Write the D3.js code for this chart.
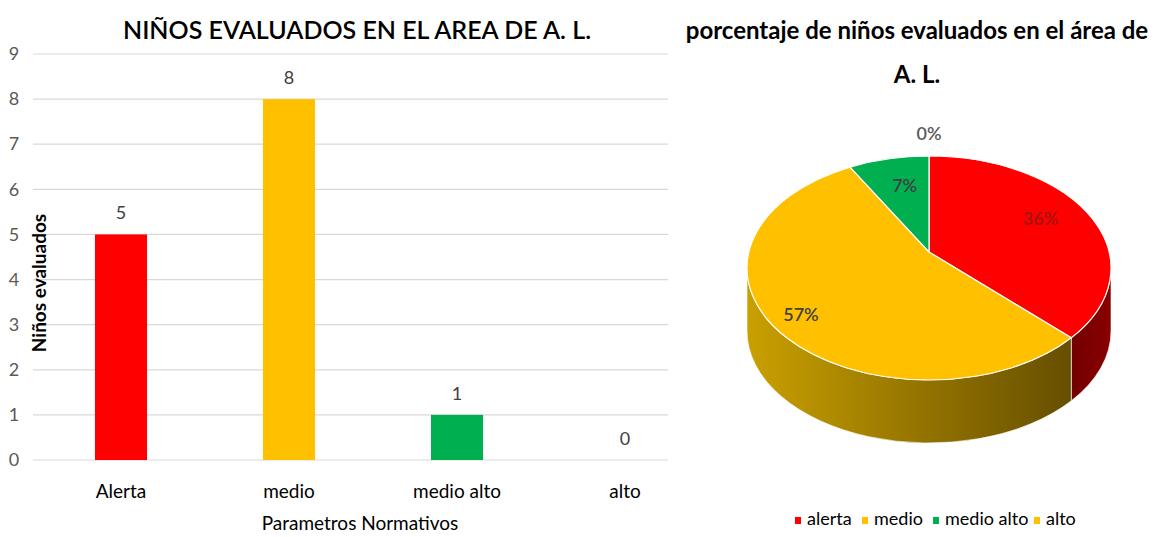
<!DOCTYPE html>
<html>
<head>
<meta charset="utf-8">
<script src="https://cdn.jsdelivr.net/npm/d3@7"></script>
<style>
  body { margin: 0; background: #fff; }
  svg text { font-family: Lato, "Open Sans", sans-serif; }
</style>
</head>
<body>
<svg id="chart" width="1153" height="537"></svg>
<script>
// data
const categories = ["Alerta", "medio", "medio alto", "alto"];
const counts = [5, 8, 1, 0];
const yTicks = [0, 1, 2, 3, 4, 5, 6, 7, 8, 9];
const pieNames = ["alerta", "medio", "medio alto", "alto"];
const pieLabels = ["36%", "57%", "7%", "0%"];
const barColors = ["#FF0000", "#FFC000", "#00B050", "#FFC000"];

const svg = d3.select("#chart");

// ---------- bar chart ----------
const x = d3.scaleBand().domain(categories).range([37, 709]).paddingInner(0.69).paddingOuter(0.345);
const y = d3.scaleLinear().domain([0, 9]).range([460, 54]);

// gridlines
svg.append("g").selectAll("line")
  .data(yTicks)
  .enter().append("line")
  .attr("x1", 33).attr("x2", 668)
  .attr("y1", d => y(d)).attr("y2", d => y(d))
  .attr("stroke", "#d9d9d9").attr("stroke-width", 1.2);

const yAxis = svg.append("g")
  .attr("transform", "translate(22,0)")
  .call(d3.axisLeft(y).tickValues(yTicks).tickSize(0).tickPadding(0));
yAxis.select(".domain").remove();
yAxis.selectAll("text")
  .attr("text-anchor", "middle").attr("x", -8)
  .style("font-size", "18px").attr("fill", "#595959");

svg.append("g").selectAll("rect")
  .data(counts)
  .enter().append("rect")
  .attr("x", (d, i) => x(categories[i]))
  .attr("width", x.bandwidth())
  .attr("y", d => y(d))
  .attr("height", d => y(0) - y(d))
  .attr("fill", (d, i) => barColors[i]);

svg.append("g").selectAll("text")
  .data(counts)
  .enter().append("text")
  .attr("x", (d, i) => x(categories[i]) + x.bandwidth() / 2)
  .attr("y", d => y(d) - 15)
  .attr("text-anchor", "middle")
  .style("font-size", "18px").attr("fill", "#404040")
  .text(d => d);

const xAxis = svg.append("g")
  .attr("transform", "translate(0,460)")
  .call(d3.axisBottom(x).tickSize(0).tickPadding(0));
xAxis.select(".domain").remove();
xAxis.selectAll("text")
  .attr("dy", 0).attr("y", 38)
  .style("font-size", "19px").attr("fill", "#000");

svg.append("text")
  .attr("x", 360).attr("y", 530)
  .attr("text-anchor", "middle")
  .style("font-size", "19px").attr("fill", "#000")
  .text("Parametros Normativos");

svg.append("text")
  .attr("transform", "translate(46,283) rotate(-90)")
  .attr("text-anchor", "middle")
  .style("font-size", "19px").style("font-weight", "bold").attr("fill", "#000")
  .text("Niños evaluados");

svg.append("text")
  .attr("x", 357).attr("y", 39)
  .attr("text-anchor", "middle")
  .style("font-size", "25px").style("font-weight", "600").attr("fill", "#000")
  .text("NIÑOS EVALUADOS EN EL AREA DE A. L.");

// ---------- 3D pie ----------
const cx = 929, cy = 268, rx = 182, ry = 112, depth = 63;
const apex = [929, 252];
const pie = d3.pie().sort(null).value(d => d)(counts);
const pt = (a, dy = 0) => [cx + rx * Math.sin(a), cy - ry * Math.cos(a) + dy];

const defs = svg.append("defs");
const g1 = defs.append("linearGradient").attr("id", "sideY")
  .attr("gradientUnits", "userSpaceOnUse")
  .attr("x1", cx - rx).attr("x2", cx + rx).attr("y1", 0).attr("y2", 0);
g1.append("stop").attr("offset", 0).attr("stop-color", "#c9a000");
g1.append("stop").attr("offset", 1).attr("stop-color", "#5a4400");
const g2 = defs.append("linearGradient").attr("id", "sideR")
  .attr("gradientUnits", "userSpaceOnUse")
  .attr("x1", cx + rx * 0.7).attr("x2", cx + rx).attr("y1", 0).attr("y2", 0);
g2.append("stop").attr("offset", 0).attr("stop-color", "#6a0000");
g2.append("stop").attr("offset", 1).attr("stop-color", "#8a0000");
const sideFill = ["url(#sideR)", "url(#sideY)", "#006b30", "url(#sideY)"];

// sides: only the front half (angles PI/2 .. 3PI/2)
const sides = svg.append("g");
pie.forEach((s, i) => {
  const a0 = Math.max(s.startAngle, Math.PI / 2);
  const a1 = Math.min(s.endAngle, 3 * Math.PI / 2);
  if (a1 <= a0) return;
  const p0 = pt(a0), p1 = pt(a1), q1 = pt(a1, depth), q0 = pt(a0, depth);
  const large = (a1 - a0) > Math.PI ? 1 : 0;
  sides.append("path")
    .attr("d", `M${p0}A${rx},${ry} 0 ${large} 1 ${p1}L${q1}A${rx},${ry} 0 ${large} 0 ${q0}Z`)
    .attr("fill", sideFill[i]).attr("stroke", "#fff").attr("stroke-width", 0.6);
});

// top faces
const tops = svg.append("g");
pie.forEach((s, i) => {
  if (s.endAngle - s.startAngle <= 0) return;
  const p0 = pt(s.startAngle), p1 = pt(s.endAngle);
  const large = (s.endAngle - s.startAngle) > Math.PI ? 1 : 0;
  tops.append("path")
    .attr("d", `M${apex}L${p0}A${rx},${ry} 0 ${large} 1 ${p1}Z`)
    .attr("fill", barColors[i]).attr("stroke", "#fff").attr("stroke-width", 1.2);
});

// data labels
const labelPos = pie.map((s, i) => {
  const mid = (s.startAngle + s.endAngle) / 2;
  const k = [0.68, 0.9, 0.6, 1.05][i];
  return [cx + rx * k * Math.sin(mid), apex[1] - ry * k * Math.cos(mid)];
});
const labelColors = ["#a01515", "#404040", "#404040", "#595959"];
svg.append("g").selectAll("text")
  .data(pieLabels)
  .enter().append("text")
  .attr("x", (d, i) => labelPos[i][0])
  .attr("y", (d, i) => labelPos[i][1] + 6)
  .attr("text-anchor", "middle")
  .style("font-size", "18px").style("font-weight", "600")
  .attr("fill", (d, i) => labelColors[i])
  .text(d => d);

svg.append("text")
  .attr("x", 917).attr("y", 39)
  .attr("text-anchor", "middle")
  .style("font-size", "24px").style("font-weight", "bold").attr("fill", "#000")
  .text("porcentaje de niños evaluados en el área de");
svg.append("text")
  .attr("x", 917).attr("y", 83)
  .attr("text-anchor", "middle")
  .style("font-size", "24px").style("font-weight", "bold").attr("fill", "#000")
  .text("A. L.");

// legend
const legendX = [798, 865, 936, 1037];
const legend = svg.append("g").selectAll("g")
  .data(pieNames)
  .enter().append("g")
  .attr("transform", (d, i) => `translate(${legendX[i]},525)`);
legend.append("rect")
  .attr("x", -3).attr("y", -8).attr("width", 6).attr("height", 7)
  .attr("fill", (d, i) => barColors[i]);
legend.append("text")
  .attr("x", 9).attr("y", 0)
  .style("font-size", "18px").attr("fill", "#000")
  .text(d => d);
</script>
</body>
</html>
